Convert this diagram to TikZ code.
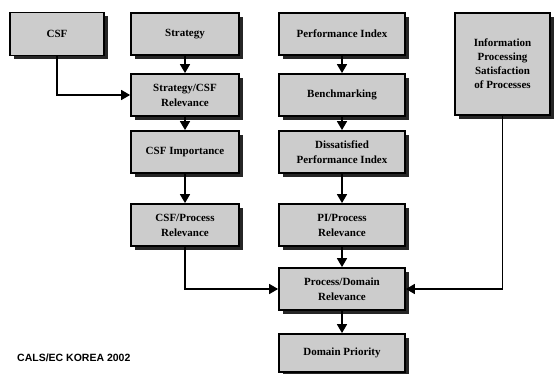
\documentclass[tikz,border=0pt]{standalone}
\usepackage{fontspec}
\setmainfont{Liberation Serif}
\newfontfamily\calsfont{Liberation Sans}
\usetikzlibrary{arrows.meta,shadows}
\begin{document}
\begin{tikzpicture}[x=1pt,y=-1pt,
  box/.style={draw=black, line width=1.8pt, fill=black!20, align=center,
    inner sep=2pt, font=\bfseries\fontsize{11}{15}\selectfont,
    drop shadow={shadow xshift=4pt, shadow yshift=-4pt, fill=black, opacity=0.85}},
  colA/.style={box, minimum width=108pt, minimum height=42pt},
  colB/.style={box, minimum width=126pt, minimum height=42pt},
  link/.style={line width=1.6pt, -{Triangle[length=9pt,width=10pt]}}]
\useasboundingbox (0,0) rectangle (556,374);

% left column
\node[box, minimum width=94pt, minimum height=43pt] (csf) at (57,34) {CSF};
\node[colA] (strat) at (185,34) {Strategy};
\node[colA] (sc)    at (185,95) {Strategy/CSF\\Relevance};
\node[colA] (imp)   at (185,152) {CSF Importance};
\node[colA] (cp)    at (185,225) {CSF/Process\\Relevance};

% middle column
\node[colB] (pi)    at (342,34) {Performance Index};
\node[colB] (bench) at (342,95) {Benchmarking};
\node[colB] (dpi)   at (342,152) {Dissatisfied\\Performance Index};
\node[colB] (pp)    at (342,225) {PI/Process\\Relevance};
\node[colB] (pd)    at (342,289) {Process/Domain\\Relevance};
\node[colB, minimum height=38pt] (dp) at (342,353) {Domain Priority};

% right column
\node[box, minimum width=95pt, minimum height=102pt,
      font=\bfseries\fontsize{11}{14}\selectfont] (info) at (502.5,64)
  {Information\\Processing\\Satisfaction\\of Processes};

% connectors
\draw[link] (csf.south) |- (sc.west);
\draw[link] (strat) -- (sc);
\draw[link] (sc) -- (imp);
\draw[link] (imp) -- (cp);
\draw[link] (pi) -- (bench);
\draw[link] (bench) -- (dpi);
\draw[link] (dpi) -- (pp);
\draw[link] (pp) -- (pd);
\draw[link] (pd) -- (dp);
\draw[link] (cp.south) |- (pd.west);
\draw[link] (info.south) |- (pd.east);

\node[anchor=west, font=\calsfont\bfseries\fontsize{10.5}{12}\selectfont, inner sep=0pt]
  (credit) at (17,358) {CALS/EC KOREA 2002};
\end{tikzpicture}
\end{document}
